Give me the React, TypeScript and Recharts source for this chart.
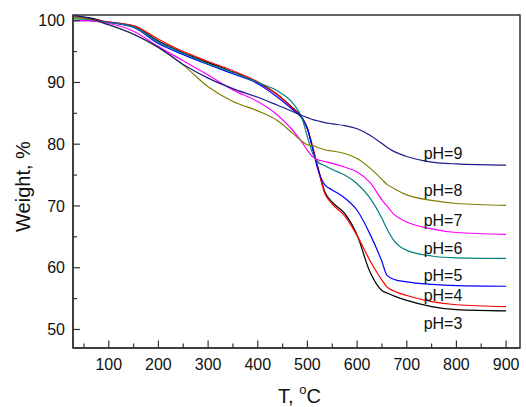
import React from "react";
import {
  LineChart,
  Line,
  XAxis,
  YAxis,
  ReferenceArea,
  ReferenceDot,
} from "recharts";

// temperature grid, °C
const temps = [30, 60, 90, 150, 200, 250, 300, 350, 400, 440, 470, 490, 500, 510, 520, 535, 550, 575, 600, 625, 650, 660, 675, 700, 750, 800, 900];

// weight, %
const ph3 = [100.8, 100.5, 99.9, 99.1, 96.7, 94.8, 93.2, 91.7, 90.0, 88.0, 85.9, 84.2, 82.5, 79.5, 76.6, 72.3, 70.6, 68.8, 65.3, 59.5, 56.3, 55.9, 55.4, 54.7, 53.7, 53.2, 53.0];
const ph4 = [100.6, 100.3, 99.9, 99.2, 97.0, 95.0, 93.4, 91.9, 90.1, 88.0, 85.8, 84.1, 82.6, 79.8, 76.5, 72.0, 70.3, 68.4, 65.2, 61.3, 58.0, 56.9, 56.2, 55.5, 54.5, 54.0, 53.7];
const ph5 = [100.0, 100.0, 99.8, 98.9, 96.3, 94.5, 92.9, 91.4, 89.8, 87.6, 85.6, 84.1, 82.5, 79.5, 76.2, 73.4, 72.6, 71.3, 69.3, 65.6, 61.0, 58.8, 58.1, 57.7, 57.3, 57.1, 57.0];
const ph6 = [100.3, 100.2, 99.8, 99.0, 96.5, 94.7, 93.0, 91.6, 90.0, 88.6, 86.7, 84.0, 81.2, 78.6, 77.2, 76.5, 75.9, 75.0, 73.6, 71.4, 68.0, 66.3, 64.3, 62.8, 61.9, 61.6, 61.5];
const ph7 = [100.0, 100.0, 99.7, 98.3, 95.8, 93.5, 91.2, 88.8, 86.9, 84.7, 82.3, 80.2, 79.0, 78.0, 77.5, 77.2, 76.9, 76.3, 75.5, 73.9, 71.0, 70.0, 68.6, 67.4, 66.3, 65.7, 65.4];
const ph8 = [100.5, 100.3, 99.6, 97.8, 95.6, 92.8, 89.3, 86.9, 85.4, 83.8, 81.8, 80.4, 79.9, 79.8, 79.5, 79.1, 78.9, 78.5, 77.7, 76.2, 74.3, 73.5, 72.8, 71.8, 70.9, 70.4, 70.1];
const ph9 = [100.8, 100.4, 99.6, 97.8, 95.7, 92.9, 90.7, 89.0, 87.6, 86.3, 85.3, 84.6, 84.3, 84.0, 83.8, 83.5, 83.3, 83.0, 82.5, 81.5, 80.1, 79.5, 78.8, 78.0, 77.1, 76.8, 76.6];

const seriesKeys = ["ph3", "ph4", "ph5", "ph6", "ph7", "ph8", "ph9"];
const seriesColors = ["#000000", "#ff0000", "#0000ff", "#008080", "#ff00ff", "#808000", "#1c1c8c"];

// curve labels
const labelTexts = ["pH=3", "pH=4", "pH=5", "pH=6", "pH=7", "pH=8", "pH=9"];
const labelT = [734, 734, 734, 734, 734, 734, 734];
const labelW = [51.0, 55.5, 58.8, 63.2, 67.7, 72.5, 78.5];

const xTicks = [50, 100, 150, 200, 250, 300, 350, 400, 450, 500, 550, 600, 650, 700, 750, 800, 850, 900];
const yTicks = [50, 55, 60, 65, 70, 75, 80, 85, 90, 95, 100];

const data = temps.map((t, i) => ({
  t,
  ph3: ph3[i],
  ph4: ph4[i],
  ph5: ph5[i],
  ph6: ph6[i],
  ph7: ph7[i],
  ph8: ph8[i],
  ph9: ph9[i],
}));

const FONT = "'Liberation Sans', Arial, sans-serif";
const AXIS = "#333";

const YTick = (props: any) => {
  const { x, y, payload } = props;
  const v = payload.value;
  const major = v % 10 === 0;
  const ax = x + 8;
  return (
    <g>
      <line x1={ax} x2={ax + (major ? 7 : 4)} y1={y} y2={y} stroke={AXIS} strokeWidth={1.2} />
      {major && (
        <text x={x} y={y} dy="0.36em" textAnchor="end" fontSize={16} fontFamily={FONT} fill="#111">
          {v}
        </text>
      )}
    </g>
  );
};

const XTick = (props: any) => {
  const { x, y, payload } = props;
  const v = payload.value;
  const major = v % 100 === 0;
  const ay = y - 8;
  return (
    <g>
      <line x1={x} x2={x} y1={ay} y2={ay - (major ? 7.5 : 4.5)} stroke={AXIS} strokeWidth={1.2} />
      {major && (
        <text x={x} y={ay + 22} textAnchor="middle" fontSize={16} fontFamily={FONT} fill="#111">
          {v}
        </text>
      )}
    </g>
  );
};

export default function App() {
  return (
    <div style={{ width: 526, height: 407, background: "#fff" }}>
      <style>{"body{margin:0}"}</style>
      <LineChart
        width={526}
        height={407}
        data={data}
        margin={{ top: 15, right: 6, bottom: 0, left: 0 }}
      >
        <XAxis
          dataKey="t"
          type="number"
          domain={[28, 928]}
          ticks={xTicks}
          interval={0}
          tickSize={0}
          tickMargin={8}
          height={59}
          stroke={AXIS}
          strokeWidth={1.5}
          tick={<XTick />}
          label={{
            content: (p: any) => {
              const vb = p.viewBox;
              return (
                <text
                  x={vb.x + vb.width / 2 + 3}
                  y={vb.y + 55}
                  textAnchor="middle"
                  fontSize={20}
                  fontFamily={FONT}
                  fill="#111"
                >
                  T,{" "}
                  <tspan fontSize={13} dy={-9}>o</tspan>
                  <tspan dy={9}>C</tspan>
                </text>
              );
            },
          }}
        />
        <YAxis
          type="number"
          domain={[47, 100.92]}
          ticks={yTicks}
          interval={0}
          tickSize={0}
          tickMargin={8}
          width={73}
          stroke={AXIS}
          strokeWidth={1.5}
          allowDataOverflow
          tick={<YTick />}
          label={{
            content: (p: any) => {
              const vb = p.viewBox;
              const cy = vb.y + vb.height / 2 + 5;
              return (
                <text
                  transform={`translate(30, ${cy}) rotate(-90)`}
                  textAnchor="middle"
                  fontSize={20}
                  fontFamily={FONT}
                  fill="#111"
                >
                  Weight, %
                </text>
              );
            },
          }}
        />
        <ReferenceArea
          x1={28}
          x2={928}
          y1={47}
          y2={100.92}
          fill="none"
          stroke={AXIS}
          strokeWidth={1.5}
          ifOverflow="visible"
        />
        {seriesKeys.map((k, i) => (
          <Line
            key={k}
            type="monotone"
            dataKey={k}
            stroke={seriesColors[i]}
            strokeWidth={1.2}
            dot={false}
            isAnimationActive={false}
          />
        ))}
        {labelTexts.map((txt, i) => (
          <ReferenceDot
            key={txt}
            x={labelT[i]}
            y={labelW[i]}
            r={0}
            ifOverflow="visible"
            shape={(p: any) => (
              <text
                x={p.cx}
                y={p.cy}
                dy="0.36em"
                fontSize={16}
                fontFamily={FONT}
                fill="#111"
              >
                {txt}
              </text>
            )}
          />
        ))}
      </LineChart>
    </div>
  );
}
